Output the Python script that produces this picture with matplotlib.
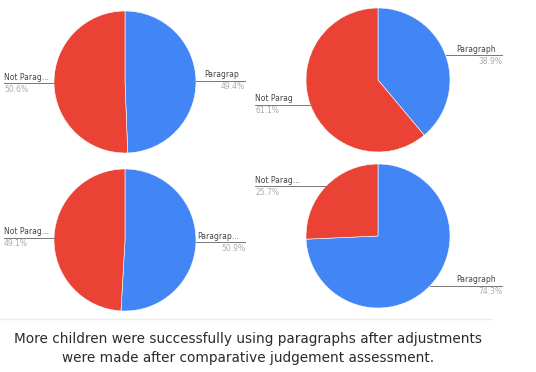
import numpy as np
import matplotlib.pyplot as plt

# valores (porcentajes)
para_vals = [49.4, 38.9, 50.9, 74.3]
not_vals = [50.6, 61.1, 49.1, 25.7]
para_txt = ['Paragrap', 'Paragraph', 'Paragrap...', 'Paragraph']
not_txt = ['Not Parag...', 'Not Parag', 'Not Parag...', 'Not Parag...']
caption = ('More children were successfully using paragraphs after adjustments\n'
           'were made after comparative judgement assessment.')

W, H = 536, 372
azul = '#4285F4'
rojo = '#EA4335'

# centro (px), radio, x izq de etiqueta, x fin de linea derecha
pies = [(125, 82, 71, 4, 245),
        (378, 80, 72, 255, 502),
        (125, 240, 71, 4, 245),
        (378, 236, 72, 255, 502)]

fig = plt.figure(figsize=(W/100, H/100), dpi=100)
ax = fig.add_axes([0, 0, 1, 1])

for i, (cx, cy, r, xl, xr) in enumerate(pies):
    vals = [para_vals[i], not_vals[i]]
    ax.pie(vals, colors=[azul, rojo], startangle=90, counterclock=False,
           center=(cx, H - cy), radius=r,
           wedgeprops=dict(edgecolor='white', linewidth=0.4))

    # angulos medios de cada porcion (sentido horario desde arriba)
    frac = np.array(vals) / sum(vals)
    mids = np.cumsum(frac) - frac/2
    for k, m in enumerate(mids):
        ang = np.deg2rad(90 - 360*m)
        px = cx + r*np.cos(ang)
        py = H - cy + r*np.sin(ang)
        if k == 0:
            ax.plot([px, xr], [py, py], color='#777777', lw=0.7)
            ax.text(xr - 6, py + 1.5, para_txt[i], ha='right', va='bottom',
                    fontsize=5.5, color='#444444')
            ax.text(xr, py - 1.5, f'{vals[k]:.1f}%', ha='right', va='top',
                    fontsize=5.5, color='#aaaaaa')
        else:
            ax.plot([xl, px], [py, py], color='#777777', lw=0.7)
            ax.text(xl, py + 1.5, not_txt[i], ha='left', va='bottom',
                    fontsize=5.5, color='#444444')
            ax.text(xl, py - 1.5, f'{vals[k]:.1f}%', ha='left', va='top',
                    fontsize=5.5, color='#aaaaaa')

# linea separadora
ax.plot([0, 492], [H - 319, H - 319], color='#eeeeee', lw=1)

ax.text(248, H - 348.5, caption, ha='center', va='center', fontsize=9.8,
        color='#2b2b2b', linespacing=1.5)

ax.set_xlim(0, W)
ax.set_ylim(0, H)
ax.set_aspect('auto')
ax.axis('off')

plt.savefig('out.png', dpi=100, facecolor='white')
